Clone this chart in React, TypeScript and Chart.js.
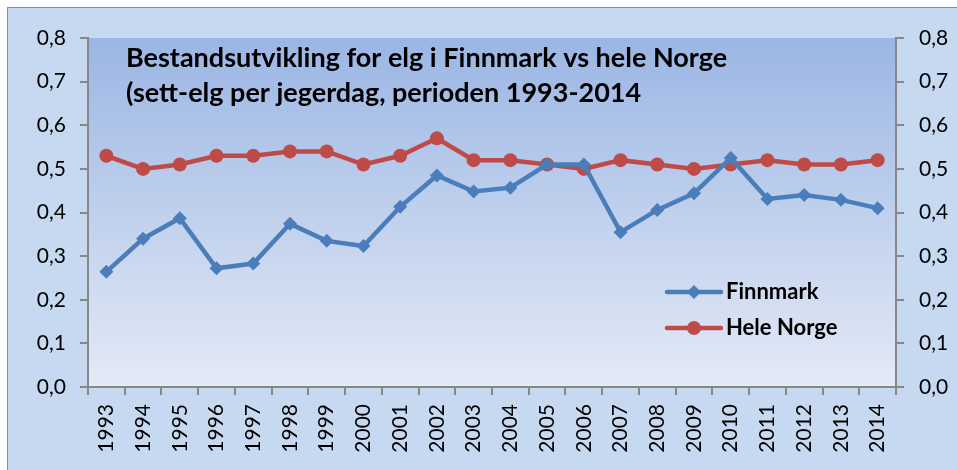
import React, { useEffect, useRef } from "react";
import { Chart, registerables } from "chart.js";

Chart.register(...registerables);

const years = ["1993","1994","1995","1996","1997","1998","1999","2000","2001","2002","2003","2004","2005","2006","2007","2008","2009","2010","2011","2012","2013","2014"];
const finnmark = [0.264,0.340,0.387,0.272,0.283,0.374,0.335,0.323,0.413,0.485,0.448,0.457,0.510,0.510,0.355,0.406,0.444,0.525,0.431,0.440,0.429,0.410];
const heleNorge = [0.53,0.50,0.51,0.53,0.53,0.54,0.54,0.51,0.53,0.57,0.52,0.52,0.51,0.50,0.52,0.51,0.50,0.51,0.52,0.51,0.51,0.52];
const seriesNames = ["Finnmark", "Hele Norge"];
const titleLines = ["Bestandsutvikling for elg i Finnmark vs hele Norge", "(sett-elg per jegerdag, perioden 1993-2014"];

const BLUE = "#4A7EBB";
const RED = "#BE4B48";
const AXIS = "#878787";
const FONT = "Lato, 'Open Sans', sans-serif";

const fmt = (v: any) => Number(v).toFixed(1).replace(".", ",");

const bgPlugin = {
  id: "plotBg",
  beforeDraw(chart: any) {
    const { ctx, chartArea: a } = chart;
    const g = ctx.createLinearGradient(0, a.top, 0, a.bottom);
    g.addColorStop(0, "#9BB6E4");
    g.addColorStop(1, "#E4EAF6");
    ctx.save();
    ctx.fillStyle = g;
    ctx.fillRect(a.left, a.top, a.right - a.left, a.bottom - a.top);
    ctx.restore();
  },
};

const overlayPlugin = {
  id: "overlay",
  afterDraw(chart: any) {
    const { ctx, chartArea: a } = chart;
    ctx.save();
    ctx.fillStyle = "#000";
    ctx.textBaseline = "middle";
    ctx.textAlign = "left";
    ctx.font = `bold 27px ${FONT}`;
    ctx.fillText(titleLines[0], a.left + 38, a.top + 20);
    ctx.fillText(titleLines[1], a.left + 38, a.top + 55);
    // legend
    const colors = [BLUE, RED];
    const lx = a.left + 579;
    const ys = [a.top + 254, a.top + 290];
    ctx.font = `bold 22px ${FONT}`;
    for (let i = 0; i < 2; i++) {
      const y = ys[i];
      ctx.strokeStyle = colors[i];
      ctx.lineWidth = 4.5;
      ctx.lineCap = "round";
      ctx.beginPath();
      ctx.moveTo(lx, y);
      ctx.lineTo(lx + 54, y);
      ctx.stroke();
      ctx.fillStyle = colors[i];
      ctx.beginPath();
      if (i === 0) {
        const r = 7;
        ctx.moveTo(lx + 27, y - r);
        ctx.lineTo(lx + 27 + r, y);
        ctx.lineTo(lx + 27, y + r);
        ctx.lineTo(lx + 27 - r, y);
        ctx.closePath();
      } else {
        ctx.arc(lx + 27, y, 7, 0, Math.PI * 2);
      }
      ctx.fill();
      ctx.fillStyle = "#000";
      ctx.fillText(seriesNames[i], lx + 59, y);
    }
    ctx.restore();
  },
};

export default function App() {
  const ref = useRef<HTMLCanvasElement | null>(null);
  useEffect(() => {
    if (!ref.current) return;
    const chart = new Chart(ref.current, {
      type: "line",
      data: {
        labels: years,
        datasets: [
          {
            label: seriesNames[0],
            data: finnmark,
            borderColor: BLUE,
            backgroundColor: BLUE,
            borderWidth: 4.5,
            pointStyle: "rectRot",
            pointRadius: 7,
            pointBorderWidth: 0,
            tension: 0,
            yAxisID: "y",
          },
          {
            label: seriesNames[1],
            data: heleNorge,
            borderColor: RED,
            backgroundColor: RED,
            borderWidth: 4.5,
            pointStyle: "circle",
            pointRadius: 7,
            pointBorderWidth: 0,
            tension: 0,
            yAxisID: "y",
          },
        ],
      },
      options: {
        animation: false,
        responsive: false,
        maintainAspectRatio: false,
        layout: { padding: { top: 30, left: 0, right: 0, bottom: 0 } },
        plugins: { legend: { display: false }, title: { display: false }, tooltip: { enabled: false } },
        scales: {
          x: {
            offset: true,
            grid: { offset: true, drawOnChartArea: false, drawTicks: true, tickLength: 8, color: AXIS, lineWidth: 2 },
            border: { display: true, color: AXIS, width: 2 },
            ticks: { color: "#000", font: { family: FONT, size: 21 }, minRotation: 90, maxRotation: 90, padding: 9, autoSkip: false },
            afterFit(s: any) { s.height = 83; },
          },
          y: {
            position: "left",
            min: 0,
            max: 0.8,
            grid: { drawOnChartArea: false, drawTicks: true, tickLength: 8, color: AXIS, lineWidth: 2 },
            border: { display: true, color: AXIS, width: 2 },
            ticks: { stepSize: 0.1, color: "#000", font: { family: FONT, size: 21 }, padding: 14, callback: fmt },
            afterFit(s: any) { s.width = 80; },
          },
          y2: {
            position: "right",
            min: 0,
            max: 0.8,
            grid: { drawOnChartArea: false, drawTicks: true, tickLength: 8, color: AXIS, lineWidth: 2 },
            border: { display: true, color: AXIS, width: 2 },
            ticks: { stepSize: 0.1, color: "#000", font: { family: FONT, size: 21 }, padding: 15, callback: fmt },
            afterFit(s: any) { s.width = 61; },
          },
        },
      },
      plugins: [bgPlugin, overlayPlugin],
    } as any);
    return () => chart.destroy();
  }, []);
  return (
    <div
      style={{
        position: "absolute",
        left: 7,
        top: 7,
        width: 950,
        height: 463,
        background: "#C6D9F1",
        borderLeft: "1px solid #8C8C8C",
        borderTop: "1px solid #8C8C8C",
      }}
    >
      <canvas ref={ref} width={949} height={462} style={{ display: "block", width: 949, height: 462 }} />
    </div>
  );
}
